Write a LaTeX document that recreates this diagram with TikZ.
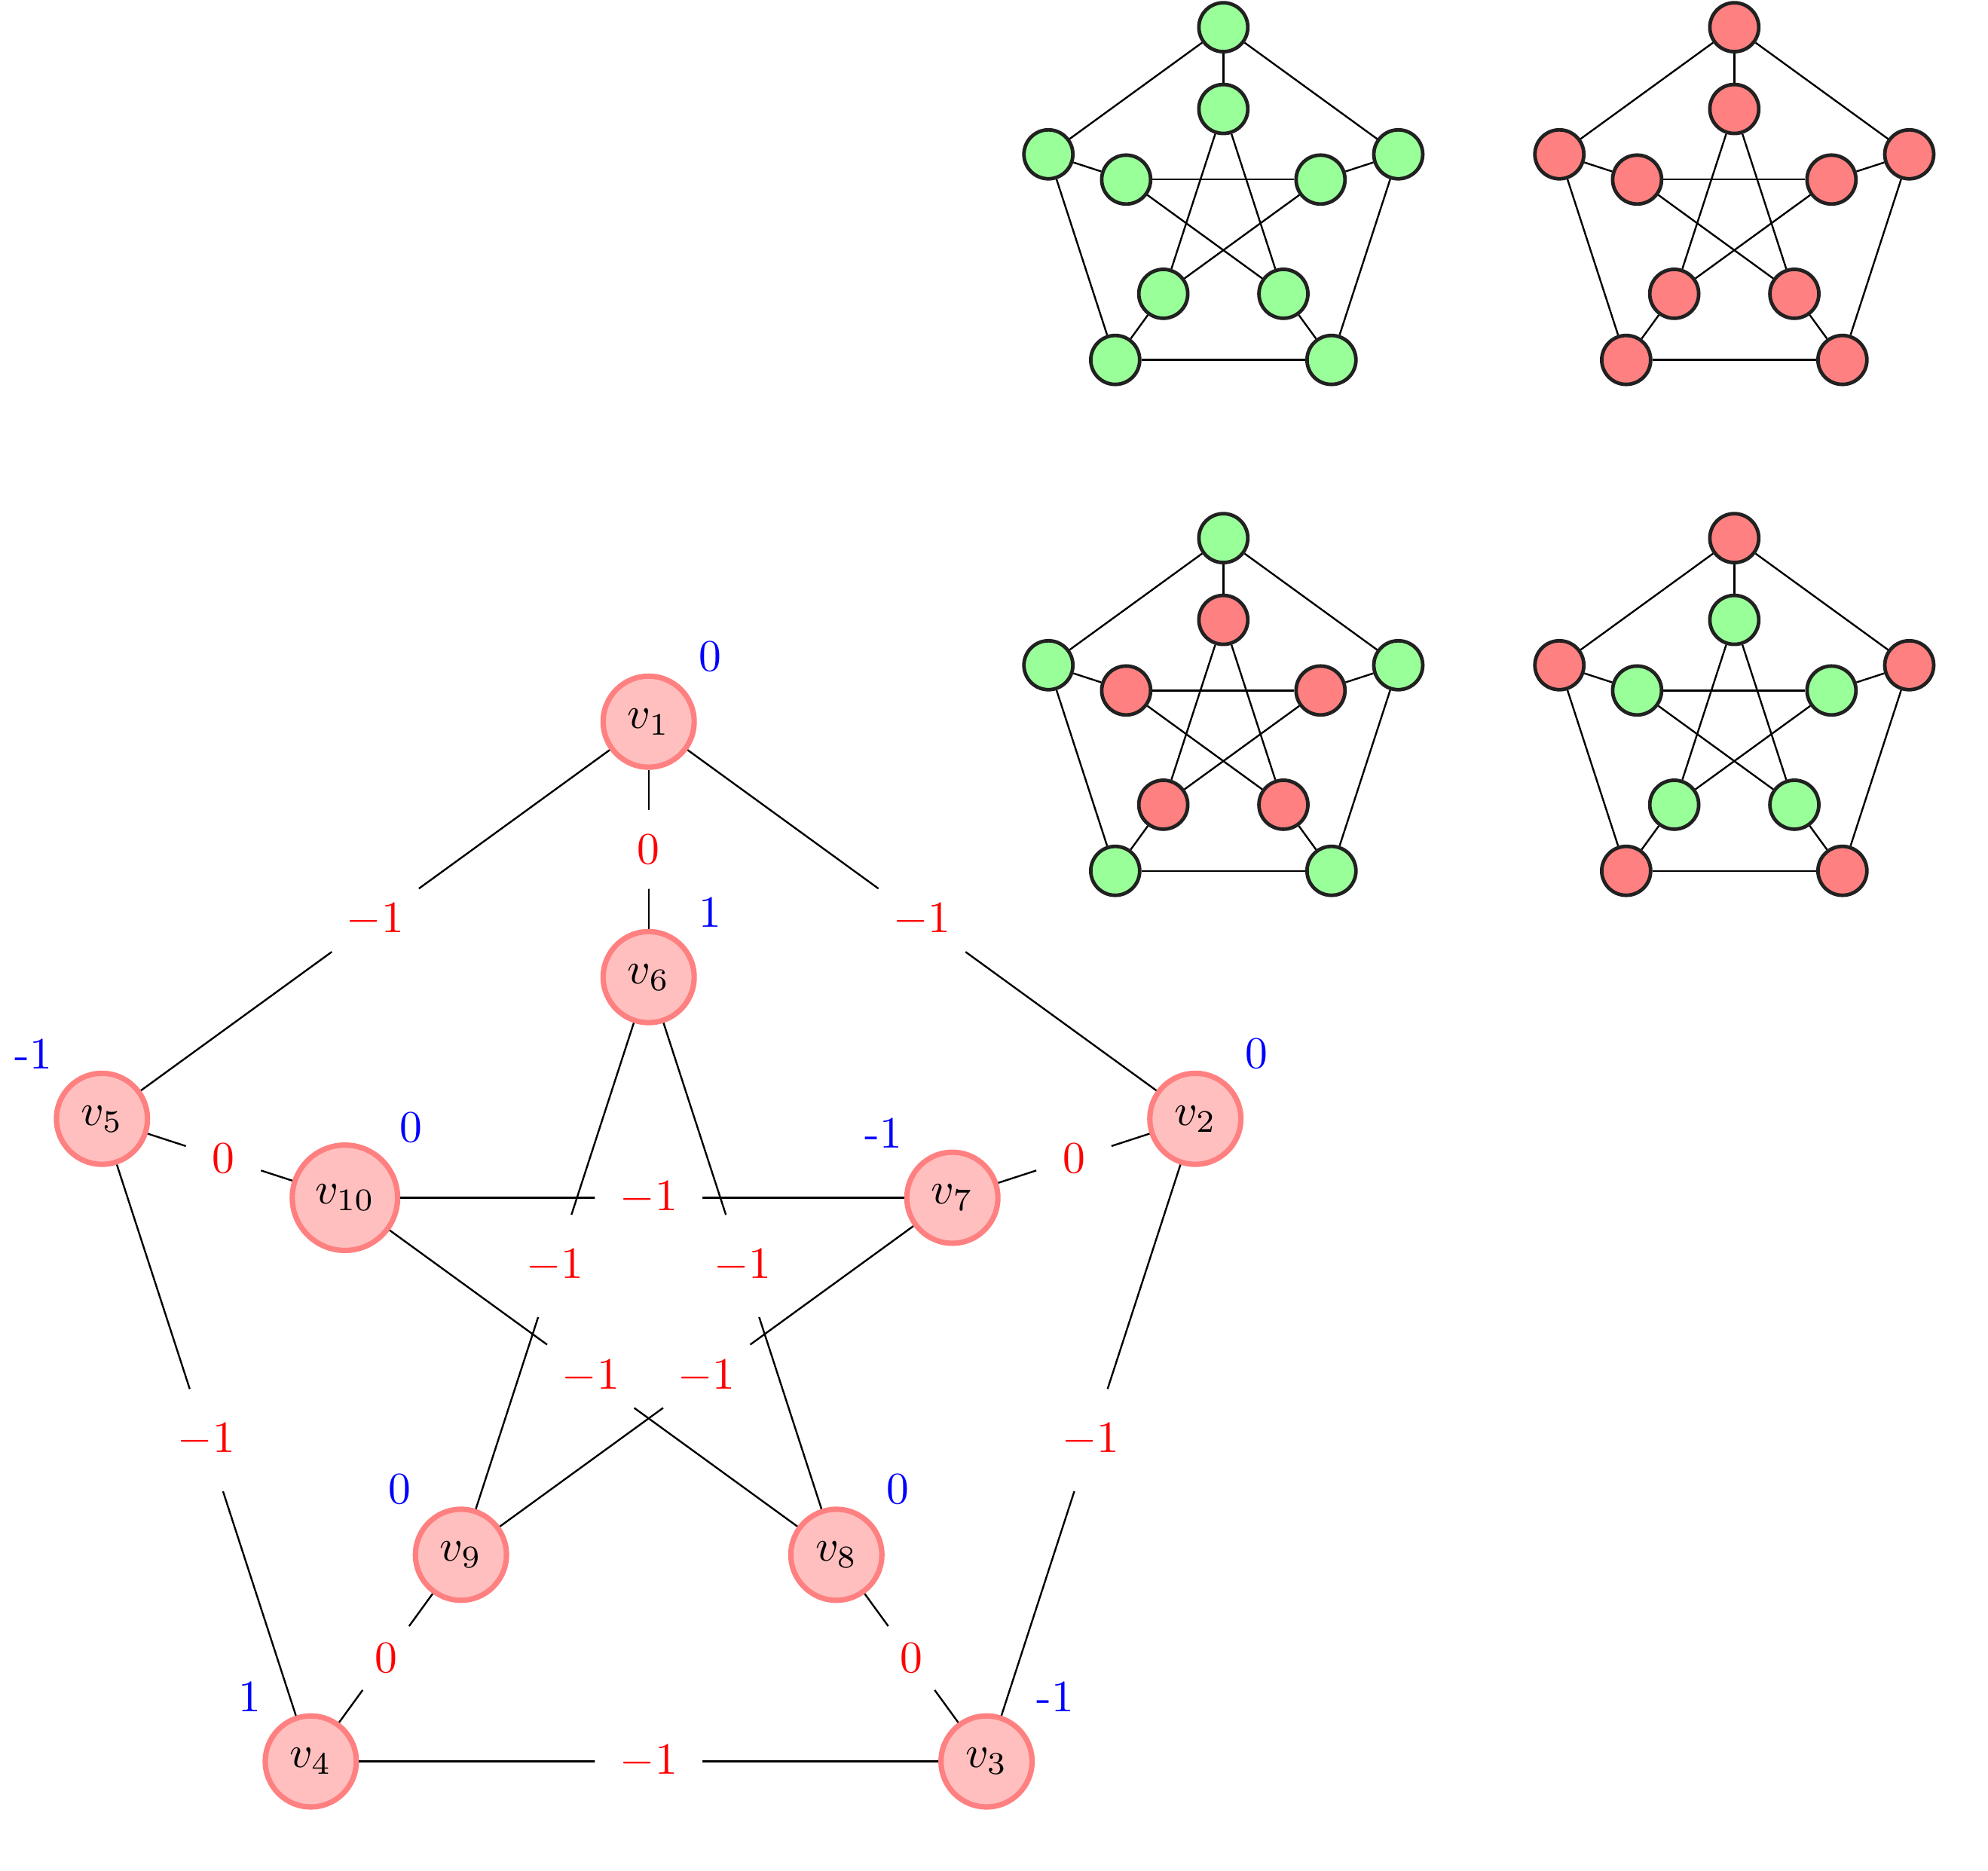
\documentclass[tikz,border=0pt]{standalone}
\usetikzlibrary{calc}
\tikzset{
  vtx/.style={circle, draw=red!50, fill=red!25, very thick},
  wlab/.style={circle, fill=white, text=red},
  sv/.style={circle, draw=black!87, thick, inner sep=0pt, minimum size=10.9pt},
  gv/.style={sv, fill=green!40},
  rv/.style={sv, fill=red!50},
  bl/.style={blue}
}
\newcommand\smallpetersen[4]{%
  \foreach \i in {1,...,5}{%
    \pgfmathtruncatemacro\j{\i+5}%
    \node[#3] (#2\i) at ($(#1)+({90-72*(\i-1)}:1.44)$) {};
    \node[#4] (#2\j) at ($(#1)+({90-72*(\i-1)}:0.8)$) {};
  }
  \foreach \a/\b in {1/2,2/3,3/4,4/5,5/1,1/6,2/7,3/8,4/9,5/10,6/8,8/10,10/7,7/9,9/6}
    \draw (#2\a) -- (#2\b);
}
\begin{document}
\begin{tikzpicture}
\useasboundingbox (0,0) rectangle (15.563,-14.643);
% small graphs
\coordinate (ca) at (9.577,-1.653);
\coordinate (cb) at (13.577,-1.653);
\coordinate (cc) at (9.577,-5.653);
\coordinate (cd) at (13.577,-5.653);
\smallpetersen{ca}{a}{gv}{gv}
\smallpetersen{cb}{b}{rv}{rv}
\smallpetersen{cc}{c}{gv}{rv}
\smallpetersen{cd}{d}{rv}{gv}
% main graph
\coordinate (C) at (5.078,-10.150);
\node[vtx, label={[bl]45:0}]  (v1)  at ($(C)+(90:4.5)$)   {$v_1$};
\node[vtx, label={[bl]45:0}]  (v2)  at ($(C)+(18:4.5)$)   {$v_2$};
\node[vtx, label={[bl]45:-1}] (v3)  at ($(C)+(-54:4.5)$)  {$v_3$};
\node[vtx, label={[bl]135:1}] (v4)  at ($(C)+(-126:4.5)$) {$v_4$};
\node[vtx, label={[bl]135:-1}] (v5) at ($(C)+(162:4.5)$)  {$v_5$};
\node[vtx, label={[bl]45:1}]  (v6)  at ($(C)+(90:2.5)$)   {$v_6$};
\node[vtx, label={[bl]135:-1}] (v7) at ($(C)+(18:2.5)$)   {$v_7$};
\node[vtx, label={[bl]45:0}]  (v8)  at ($(C)+(-54:2.5)$)  {$v_8$};
\node[vtx, label={[bl]135:0}] (v9)  at ($(C)+(-126:2.5)$) {$v_9$};
\node[vtx, label={[bl]45:0}]  (v10) at ($(C)+(162:2.5)$)  {$v_{10}$};
% edges
\foreach \a/\b in {1/2,2/3,3/4,4/5,5/1,1/6,2/7,3/8,4/9,5/10,6/8,8/10,10/7,7/9,9/6}
  \draw (v\a) -- (v\b);
% edge weights
\node[wlab] (e12)  at ($(v1)!0.5!(v2)$)  {$-1$};
\node[wlab] (e23)  at ($(v2)!0.5!(v3)$)  {$-1$};
\node[wlab] (e34)  at ($(v3)!0.5!(v4)$)  {$-1$};
\node[wlab] (e45)  at ($(v4)!0.5!(v5)$)  {$-1$};
\node[wlab] (e51)  at ($(v5)!0.5!(v1)$)  {$-1$};
\node[wlab] (e16)  at ($(v1)!0.5!(v6)$)  {$0$};
\node[wlab] (e27)  at ($(v2)!0.5!(v7)$)  {$0$};
\node[wlab] (e38)  at ($(v3)!0.5!(v8)$)  {$0$};
\node[wlab] (e49)  at ($(v4)!0.5!(v9)$)  {$0$};
\node[wlab] (e510) at ($(v5)!0.5!(v10)$) {$0$};
\node[wlab] (e68)  at ($(v6)!0.5!(v8)$)  {$-1$};
\node[wlab] (e810) at ($(v8)!0.5!(v10)$) {$-1$};
\node[wlab] (e107) at ($(v10)!0.5!(v7)$) {$-1$};
\node[wlab] (e79)  at ($(v7)!0.5!(v9)$)  {$-1$};
\node[wlab] (e96)  at ($(v9)!0.5!(v6)$)  {$-1$};
\end{tikzpicture}
\end{document}
